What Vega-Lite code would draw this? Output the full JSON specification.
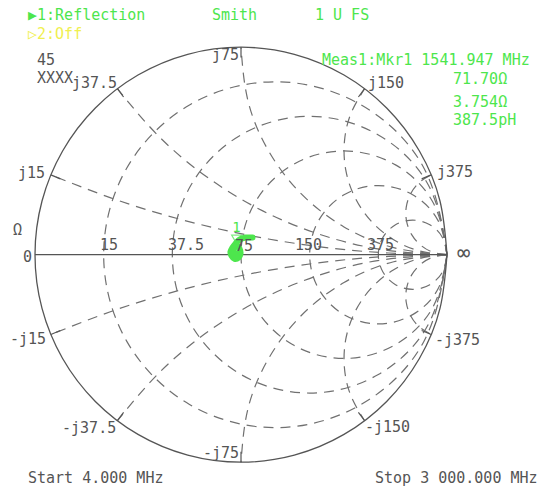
{
  "$schema": "https://vega.github.io/schema/vega-lite/v6.json",
  "width": 543,
  "height": 488,
  "autosize": "none",
  "padding": 0,
  "background": "white",
  "config": {"view": {"stroke": null}},
  "datasets": {
    "outer": [
      {"i":0,"x":1,"y":0},{"i":1,"x":0.96593,"y":0.25882},{"i":2,"x":0.86603,"y":0.5},{"i":3,"x":0.70711,"y":0.70711},{"i":4,"x":0.5,"y":0.86603},{"i":5,"x":0.25882,"y":0.96593},{"i":6,"x":0,"y":1},{"i":7,"x":-0.25882,"y":0.96593},{"i":8,"x":-0.5,"y":0.86603},{"i":9,"x":-0.70711,"y":0.70711},{"i":10,"x":-0.86603,"y":0.5},{"i":11,"x":-0.96593,"y":0.25882},{"i":12,"x":-1,"y":0},{"i":13,"x":-0.96593,"y":-0.25882},{"i":14,"x":-0.86603,"y":-0.5},{"i":15,"x":-0.70711,"y":-0.70711},{"i":16,"x":-0.5,"y":-0.86603},{"i":17,"x":-0.25882,"y":-0.96593},{"i":18,"x":0,"y":-1},{"i":19,"x":0.25882,"y":-0.96593},{"i":20,"x":0.5,"y":-0.86603},{"i":21,"x":0.70711,"y":-0.70711},{"i":22,"x":0.86603,"y":-0.5},{"i":23,"x":0.96593,"y":-0.25882},{"i":24,"x":1,"y":0}
    ],
    "axisline": [{"i":0,"x":-1,"y":0},{"i":1,"x":1,"y":0}],
    "grid": [
      {"g":"r0.2","i":0,"x":1,"y":0},{"g":"r0.2","i":1,"x":0.88836,"y":0.41667},{"g":"r0.2","i":2,"x":0.58333,"y":0.72169},{"g":"r0.2","i":3,"x":0.16667,"y":0.83333},{"g":"r0.2","i":4,"x":-0.25,"y":0.72169},{"g":"r0.2","i":5,"x":-0.55502,"y":0.41667},{"g":"r0.2","i":6,"x":-0.66667,"y":0},{"g":"r0.2","i":7,"x":-0.55502,"y":-0.41667},{"g":"r0.2","i":8,"x":-0.25,"y":-0.72169},{"g":"r0.2","i":9,"x":0.16667,"y":-0.83333},{"g":"r0.2","i":10,"x":0.58333,"y":-0.72169},{"g":"r0.2","i":11,"x":0.88836,"y":-0.41667},{"g":"r0.2","i":12,"x":1,"y":0},
      {"g":"r0.5","i":0,"x":1,"y":0},{"g":"r0.5","i":1,"x":0.91068,"y":0.33333},{"g":"r0.5","i":2,"x":0.66667,"y":0.57735},{"g":"r0.5","i":3,"x":0.33333,"y":0.66667},{"g":"r0.5","i":4,"x":0,"y":0.57735},{"g":"r0.5","i":5,"x":-0.24402,"y":0.33333},{"g":"r0.5","i":6,"x":-0.33333,"y":0},{"g":"r0.5","i":7,"x":-0.24402,"y":-0.33333},{"g":"r0.5","i":8,"x":0,"y":-0.57735},{"g":"r0.5","i":9,"x":0.33333,"y":-0.66667},{"g":"r0.5","i":10,"x":0.66667,"y":-0.57735},{"g":"r0.5","i":11,"x":0.91068,"y":-0.33333},{"g":"r0.5","i":12,"x":1,"y":0},
      {"g":"r1","i":0,"x":1,"y":0},{"g":"r1","i":1,"x":0.93301,"y":0.25},{"g":"r1","i":2,"x":0.75,"y":0.43301},{"g":"r1","i":3,"x":0.5,"y":0.5},{"g":"r1","i":4,"x":0.25,"y":0.43301},{"g":"r1","i":5,"x":0.06699,"y":0.25},{"g":"r1","i":6,"x":0,"y":0},{"g":"r1","i":7,"x":0.06699,"y":-0.25},{"g":"r1","i":8,"x":0.25,"y":-0.43301},{"g":"r1","i":9,"x":0.5,"y":-0.5},{"g":"r1","i":10,"x":0.75,"y":-0.43301},{"g":"r1","i":11,"x":0.93301,"y":-0.25},{"g":"r1","i":12,"x":1,"y":0},
      {"g":"r2","i":0,"x":1,"y":0},{"g":"r2","i":1,"x":0.95535,"y":0.16667},{"g":"r2","i":2,"x":0.83333,"y":0.28868},{"g":"r2","i":3,"x":0.66667,"y":0.33333},{"g":"r2","i":4,"x":0.5,"y":0.28868},{"g":"r2","i":5,"x":0.37799,"y":0.16667},{"g":"r2","i":6,"x":0.33333,"y":0},{"g":"r2","i":7,"x":0.37799,"y":-0.16667},{"g":"r2","i":8,"x":0.5,"y":-0.28868},{"g":"r2","i":9,"x":0.66667,"y":-0.33333},{"g":"r2","i":10,"x":0.83333,"y":-0.28868},{"g":"r2","i":11,"x":0.95535,"y":-0.16667},{"g":"r2","i":12,"x":1,"y":0},
      {"g":"r5","i":0,"x":1,"y":0},{"g":"r5","i":1,"x":0.97767,"y":0.08333},{"g":"r5","i":2,"x":0.91667,"y":0.14434},{"g":"r5","i":3,"x":0.83333,"y":0.16667},{"g":"r5","i":4,"x":0.75,"y":0.14434},{"g":"r5","i":5,"x":0.68899,"y":0.08333},{"g":"r5","i":6,"x":0.66667,"y":0},{"g":"r5","i":7,"x":0.68899,"y":-0.08333},{"g":"r5","i":8,"x":0.75,"y":-0.14434},{"g":"r5","i":9,"x":0.83333,"y":-0.16667},{"g":"r5","i":10,"x":0.91667,"y":-0.14434},{"g":"r5","i":11,"x":0.97767,"y":-0.08333},{"g":"r5","i":12,"x":1,"y":0},
      {"g":"x0.2","i":0,"x":1,"y":0},{"g":"x0.2","i":1,"x":0.67124,"y":0.01082},{"g":"x0.2","i":2,"x":0.3439,"y":0.04323},{"g":"x0.2","i":3,"x":0.01942,"y":0.09709},{"g":"x0.2","i":4,"x":-0.30084,"y":0.17218},{"g":"x0.2","i":5,"x":-0.61546,"y":0.26815},{"g":"x0.2","i":6,"x":-0.92308,"y":0.38461},
      {"g":"x-0.2","i":0,"x":1,"y":0},{"g":"x-0.2","i":1,"x":0.67124,"y":-0.01082},{"g":"x-0.2","i":2,"x":0.3439,"y":-0.04323},{"g":"x-0.2","i":3,"x":0.01942,"y":-0.09709},{"g":"x-0.2","i":4,"x":-0.30084,"y":-0.17218},{"g":"x-0.2","i":5,"x":-0.61546,"y":-0.26815},{"g":"x-0.2","i":6,"x":-0.92308,"y":-0.38461},
      {"g":"x0.5","i":0,"x":1,"y":0},{"g":"x0.5","i":1,"x":0.69214,"y":0.02384},{"g":"x0.5","i":2,"x":0.3916,"y":0.09478},{"g":"x0.5","i":3,"x":0.10557,"y":0.21114},{"g":"x0.5","i":4,"x":-0.15916,"y":0.3701},{"g":"x0.5","i":5,"x":-0.39632,"y":0.56788},{"g":"x0.5","i":6,"x":-0.6,"y":0.8},
      {"g":"x-0.5","i":0,"x":1,"y":0},{"g":"x-0.5","i":1,"x":0.69214,"y":-0.02384},{"g":"x-0.5","i":2,"x":0.3916,"y":-0.09478},{"g":"x-0.5","i":3,"x":0.10557,"y":-0.21114},{"g":"x-0.5","i":4,"x":-0.15916,"y":-0.3701},{"g":"x-0.5","i":5,"x":-0.39632,"y":-0.56788},{"g":"x-0.5","i":6,"x":-0.6,"y":-0.8},
      {"g":"x1","i":0,"x":1,"y":0},{"g":"x1","i":1,"x":0.74118,"y":0.03407},{"g":"x1","i":2,"x":0.5,"y":0.13397},{"g":"x1","i":3,"x":0.29289,"y":0.29289},{"g":"x1","i":4,"x":0.13397,"y":0.5},{"g":"x1","i":5,"x":0.03407,"y":0.74118},{"g":"x1","i":6,"x":0,"y":1},
      {"g":"x-1","i":0,"x":1,"y":0},{"g":"x-1","i":1,"x":0.74118,"y":-0.03407},{"g":"x-1","i":2,"x":0.5,"y":-0.13397},{"g":"x-1","i":3,"x":0.29289,"y":-0.29289},{"g":"x-1","i":4,"x":0.13397,"y":-0.5},{"g":"x-1","i":5,"x":0.03407,"y":-0.74118},{"g":"x-1","i":6,"x":0,"y":-1},
      {"g":"x2","i":0,"x":1,"y":0},{"g":"x2","i":1,"x":0.863364,"y":0.019031},{"g":"x2","i":2,"x":0.737132,"y":0.074676},{"g":"x2","i":3,"x":0.630908,"y":0.162699},{"g":"x2","i":4,"x":0.552786,"y":0.276393},{"g":"x2","i":5,"x":0.508703,"y":0.407115},{"g":"x2","i":6,"x":0.50202,"y":0.544899},{"g":"x2","i":7,"x":0.533244,"y":0.679274},{"g":"x2","i":8,"x":0.6,"y":0.8},
      {"g":"x-2","i":0,"x":1,"y":0},{"g":"x-2","i":1,"x":0.863364,"y":-0.019031},{"g":"x-2","i":2,"x":0.737132,"y":-0.074676},{"g":"x-2","i":3,"x":0.630908,"y":-0.162699},{"g":"x-2","i":4,"x":0.552786,"y":-0.276393},{"g":"x-2","i":5,"x":0.508703,"y":-0.407115},{"g":"x-2","i":6,"x":0.50202,"y":-0.544899},{"g":"x-2","i":7,"x":0.533244,"y":-0.679274},{"g":"x-2","i":8,"x":0.6,"y":-0.8},
      {"g":"x5","i":0,"x":1,"y":0},{"g":"x5","i":1,"x":0.93267,"y":0.011674},{"g":"x5","i":2,"x":0.873202,"y":0.045332},{"g":"x5","i":3,"x":0.828535,"y":0.097045},{"g":"x5","i":4,"x":0.803884,"y":0.160777},{"g":"x5","i":5,"x":0.802126,"y":0.229087},{"g":"x5","i":6,"x":0.823468,"y":0.294002},{"g":"x5","i":7,"x":0.865419,"y":0.347946},{"g":"x5","i":8,"x":0.923077,"y":0.384615},
      {"g":"x-5","i":0,"x":1,"y":0},{"g":"x-5","i":1,"x":0.93267,"y":-0.011674},{"g":"x-5","i":2,"x":0.873202,"y":-0.045332},{"g":"x-5","i":3,"x":0.828535,"y":-0.097045},{"g":"x-5","i":4,"x":0.803884,"y":-0.160777},{"g":"x-5","i":5,"x":0.802126,"y":-0.229087},{"g":"x-5","i":6,"x":0.823468,"y":-0.294002},{"g":"x-5","i":7,"x":0.865419,"y":-0.347946},{"g":"x-5","i":8,"x":0.923077,"y":-0.384615}
    ],
    "ticks": [
      {"x":-0.92308,"y":0.38462,"x2":-0.87692,"y2":0.36539},
      {"x":-0.6,"y":0.8,"x2":-0.57,"y2":0.76},
      {"x":0,"y":1,"x2":0,"y2":0.95},
      {"x":0.6,"y":0.8,"x2":0.57,"y2":0.76},
      {"x":0.92308,"y":0.38462,"x2":0.87692,"y2":0.36539},
      {"x":-0.92308,"y":-0.38462,"x2":-0.87692,"y2":-0.36539},
      {"x":-0.6,"y":-0.8,"x2":-0.57,"y2":-0.76},
      {"x":0,"y":-1,"x2":0,"y2":-0.95},
      {"x":0.6,"y":-0.8,"x2":0.57,"y2":-0.76},
      {"x":0.92308,"y":-0.38462,"x2":0.87692,"y2":-0.36539}
    ],
    "trace": [
      {"i":0,"x":0.056,"y":0.0827},{"i":1,"x":0.0219,"y":0.0827},{"i":2,"x":-0.0073,"y":0.073},{"i":3,"x":-0.0268,"y":0.0535},{"i":4,"x":-0.0414,"y":0.0341},{"i":5,"x":-0.0511,"y":0.0146},{"i":6,"x":-0.0462,"y":-0.0049},{"i":7,"x":-0.0316,"y":-0.0195},{"i":8,"x":-0.0122,"y":-0.0146},{"i":9,"x":-0.0024,"y":0.0049},{"i":10,"x":-0.0073,"y":0.0292},{"i":11,"x":-0.0219,"y":0.0438},{"i":12,"x":-0.0365,"y":0.0243},{"i":13,"x":-0.0268,"y":0.0049}
    ],
    "marker": [{"x":-0.022,"y":0.026,"label":"1"}],
    "labels": [
      {"x":-0.9903,"y":0.9383,"t":"45"},
      {"x":-0.9903,"y":0.8516,"t":"XXXX"},
      {"x":-0.8204,"y":0.8275,"t":"j37.5"},
      {"x":-0.1408,"y":0.9624,"t":"j75"},
      {"x":0.6165,"y":0.8275,"t":"j150"},
      {"x":0.9515,"y":0.3986,"t":"j375"},
      {"x":-1.0825,"y":0.3937,"t":"j15"},
      {"x":-1.1068,"y":0.119,"t":"Ω"},
      {"x":-1.0583,"y":-0.0111,"t":"0"},
      {"x":-0.6845,"y":0.0467,"t":"15"},
      {"x":-0.3544,"y":0.0467,"t":"37.5"},
      {"x":-0.0291,"y":0.0419,"t":"75"},
      {"x":0.2621,"y":0.0467,"t":"150"},
      {"x":0.6117,"y":0.0467,"t":"375"},
      {"x":-1.1214,"y":-0.4063,"t":"-j15"},
      {"x":-0.8689,"y":-0.8352,"t":"-j37.5"},
      {"x":-0.1845,"y":-0.9552,"t":"-j75"},
      {"x":0.6019,"y":-0.8304,"t":"-j150"},
      {"x":0.9417,"y":-0.4111,"t":"-j375"},
      {"x":-1.034,"y":-1.0761,"t":"Start 4.000 MHz"},
      {"x":0.6505,"y":-1.0761,"t":"Stop 3 000.000 MHz"}
    ],
    "inf": [{"x":1.0485,"y":0.0082,"t":"∞"}],
    "green": [
      {"x":-1.034,"y":1.1552,"t":"▶1:Reflection"},
      {"x":-0.1408,"y":1.1552,"t":"Smith"},
      {"x":0.3592,"y":1.1552,"t":"1 U FS"},
      {"x":0.3932,"y":0.9383,"t":"Meas1:Mkr1 1541.947 MHz"},
      {"x":1.0291,"y":0.8468,"t":"71.70Ω"},
      {"x":1.0291,"y":0.7359,"t":"3.754Ω"},
      {"x":1.0291,"y":0.6492,"t":"387.5pH"}
    ],
    "yellow": [
      {"x":-1.034,"y":1.0636,"t":"▷2:Off"}
    ]
  },
  "encoding": {
    "x": {"field": "x", "type": "quantitative", "axis": null, "scale": {"domain": [-1.1699, 1.466], "nice": false, "zero": false}},
    "y": {"field": "y", "type": "quantitative", "axis": null, "scale": {"domain": [-1.1243, 1.2275], "nice": false, "zero": false}}
  },
  "layer": [
    {
      "data": {"name": "grid"},
      "mark": {"type": "line", "interpolate": "natural", "stroke": "#707070", "strokeWidth": 1.2, "strokeDash": [10, 7]},
      "encoding": {"detail": {"field": "g"}, "order": {"field": "i", "type": "quantitative"}}
    },
    {
      "data": {"name": "ticks"},
      "mark": {"type": "rule", "stroke": "#555555", "strokeWidth": 1.2},
      "encoding": {"x2": {"field": "x2"}, "y2": {"field": "y2"}}
    },
    {
      "data": {"name": "outer"},
      "mark": {"type": "line", "interpolate": "natural", "stroke": "#555555", "strokeWidth": 1.3},
      "encoding": {"order": {"field": "i", "type": "quantitative"}}
    },
    {
      "data": {"name": "axisline"},
      "mark": {"type": "line", "stroke": "#555555", "strokeWidth": 1.2},
      "encoding": {"order": {"field": "i", "type": "quantitative"}}
    },
    {
      "data": {"name": "trace"},
      "mark": {"type": "line", "interpolate": "cardinal", "stroke": "#4de64d", "strokeWidth": 6, "strokeCap": "round", "strokeJoin": "round"},
      "encoding": {"order": {"field": "i", "type": "quantitative"}}
    },
    {
      "data": {"name": "marker"},
      "mark": {"type": "point", "shape": "triangle-down", "filled": false, "stroke": "#4de64d", "strokeWidth": 1.3, "size": 90, "yOffset": -10},
      "encoding": {}
    },
    {
      "data": {"name": "marker"},
      "mark": {"type": "text", "color": "#4de64d", "font": "DejaVu Sans Mono", "fontSize": 14, "dy": -21},
      "encoding": {"text": {"field": "label"}}
    },
    {
      "data": {"name": "labels"},
      "mark": {"type": "text", "align": "left", "baseline": "middle", "color": "#555555", "font": "DejaVu Sans Mono", "fontSize": 15},
      "encoding": {"text": {"field": "t"}}
    },
    {
      "data": {"name": "inf"},
      "mark": {"type": "text", "align": "left", "baseline": "middle", "color": "#555555", "font": "DejaVu Sans Mono", "fontSize": 22},
      "encoding": {"text": {"field": "t"}}
    },
    {
      "data": {"name": "green"},
      "mark": {"type": "text", "align": "left", "baseline": "middle", "color": "#4de64d", "font": "DejaVu Sans Mono", "fontSize": 15},
      "encoding": {"text": {"field": "t"}}
    },
    {
      "data": {"name": "yellow"},
      "mark": {"type": "text", "align": "left", "baseline": "middle", "color": "#f0f050", "font": "DejaVu Sans Mono", "fontSize": 15},
      "encoding": {"text": {"field": "t"}}
    }
  ]
}
